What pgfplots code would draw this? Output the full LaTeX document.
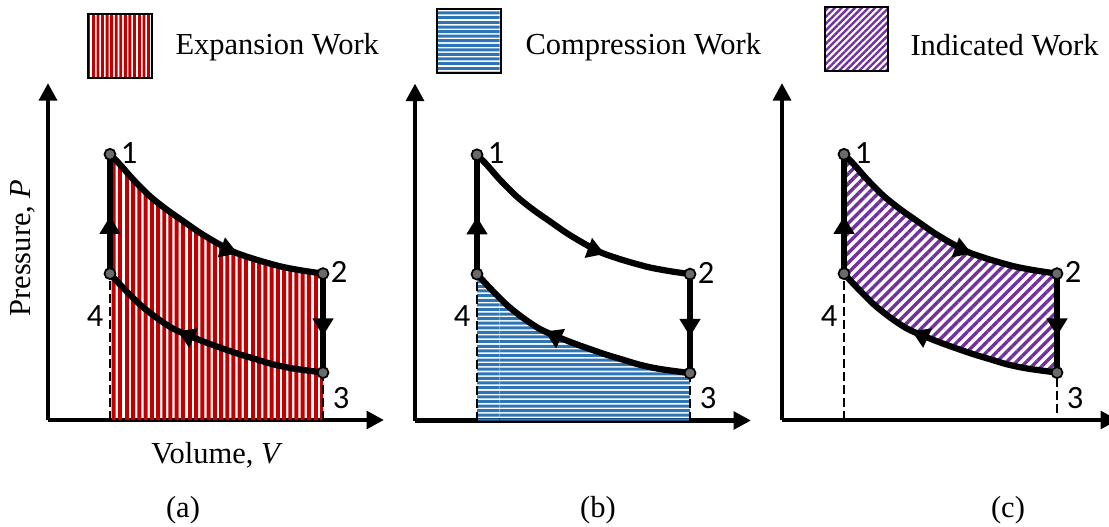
\documentclass[border=0pt]{standalone}
\usepackage{fontspec}
\setmainfont{Liberation Serif}
\newfontfamily\numfont{Carlito}
\usepackage{pgfplots}
\pgfplotsset{compat=1.18}
\usepackage{pgfplotstable}
\usepgfplotslibrary{fillbetween}
\usetikzlibrary{arrows.meta,patterns,patterns.meta,decorations.markings}

\definecolor{expred}{HTML}{C00000}
\definecolor{compblue}{HTML}{2E75B6}
\definecolor{indpurple}{HTML}{7030A0}
\definecolor{dotgray}{HTML}{6A6A6A}

% stripe patterns with wide tiles
\pgfdeclarepatternformonly{vstripes}{\pgfpointorigin}{\pgfpoint{25pt}{90pt}}{\pgfpoint{25pt}{90pt}}{%
  \foreach \i in {0,...,9}{%
    \pgfpathrectangle{\pgfpoint{\i*2.5pt}{0pt}}{\pgfpoint{1.6pt}{90pt}}}%
  \pgfusepath{fill}}
\pgfdeclarepatternformonly{vstripesfine}{\pgfpointorigin}{\pgfpoint{18.5pt}{40pt}}{\pgfpoint{18.5pt}{40pt}}{%
  \foreach \i in {0,...,9}{%
    \pgfpathrectangle{\pgfpoint{\i*1.85pt}{0pt}}{\pgfpoint{1.15pt}{40pt}}}%
  \pgfusepath{fill}}
\pgfdeclarepatternformonly{hstripes}{\pgfpointorigin}{\pgfpoint{100pt}{18.5pt}}{\pgfpoint{100pt}{18.5pt}}{%
  \foreach \i in {0,...,9}{%
    \pgfpathrectangle{\pgfpoint{0pt}{\i*1.85pt}}{\pgfpoint{100pt}{1.2pt}}}%
  \pgfusepath{fill}}

% expansion stroke 1 -> 2
\pgfplotstableread{
V P
62 265.7
72 255.5
85 240.7
101.7 224
118.3 210.7
135 199
151.7 187.4
168.3 177.4
185 168.4
201.7 162.4
218.3 157.4
235 153
255 149.3
275 146.4
}\expansion

% compression stroke 4 <- 3 (listed by increasing volume)
\pgfplotstableread{
V P
62 146.4
75 132.4
91.7 115.7
108.3 102.4
125 91.4
141.7 84
158.3 77.4
175 71.4
191.7 65.7
208.3 60.7
225 55.7
245 51.5
275 47.4
}\compression

\tikzset{
  cyc/.style={black, line width=2.5pt, line cap=round, line join=round},
  midarrow/.style={postaction={decorate}, decoration={markings,
      mark=at position #1 with {\arrow{Triangle[length=7pt,width=8pt]}}}},
  midarrowrev/.style={postaction={decorate}, decoration={markings,
      mark=at position #1 with {\arrowreversed{Triangle[length=7pt,width=8pt]}}}},
  dashedguide/.style={black, line width=0.75pt, dash pattern=on 3.6pt off 1.6pt},
  lbl/.style={font=\numfont\fontsize{13}{15}\selectfont, inner sep=0pt},
  txt/.style={font=\fontsize{12.2}{14.6}\selectfont, inner sep=0pt},
}

\pgfplotsset{
  panel/.style={
    x=0.4pt, y=0.4pt,
    xmin=0, xmax=336, ymin=0, ymax=337,
    axis lines*=left,
    xtick=\empty, ytick=\empty,
    clip=false,
    axis line style={line width=1.8pt, -{Triangle[length=7pt,width=7pt]}},
    anchor=south west,
  },
}

% the closed cycle with its points and numbers
\newcommand{\cycle}{%
  \addplot[cyc, smooth, midarrow=0.65] table[x=V,y=P] {\expansion};
  \addplot[cyc, smooth, midarrowrev=0.37] table[x=V,y=P] {\compression};
  \addplot[cyc, midarrow=0.63] coordinates {(275,146.4) (275,47.4)};
  \addplot[cyc, midarrow=0.48] coordinates {(62,146.4) (62,265.7)};
  \addplot[only marks, mark=*, mark size=2.2pt,
    mark options={fill=dotgray, draw=black, line width=0.7pt}]
    coordinates {(62,265.7) (275,146.4) (275,47.4) (62,146.4)};
  \node[lbl] at (axis cs:81,267) {1};
  \node[lbl] at (axis cs:291,148) {2};
  \node[lbl] at (axis cs:293,22) {3};
  \node[lbl] at (axis cs:47,104) {4};
}

\begin{document}
\begin{tikzpicture}

% (a) expansion work
\begin{axis}[panel, at={(19.2pt,-168pt)}]
  \addplot[draw=none, smooth, name path=topA] table[x=V,y=P] {\expansion};
  \path[name path=baseA] (axis cs:62,0) -- (axis cs:275,0);
  \addplot[pattern=vstripes, pattern color=expred] fill between[of=topA and baseA];
  \addplot[dashedguide] coordinates {(62,0) (62,146.4)};
  \addplot[dashedguide] coordinates {(275,0) (275,47.4)};
  \cycle
  \node[txt] at (axis cs:169,-35) {Volume, \textit{V}};
  \node[txt, rotate=90] at (axis cs:-25,172) {Pressure, \textit{P}};
\end{axis}

% (b) compression work
\begin{axis}[panel, at={(166pt,-168.2pt)}]
  \addplot[draw=none, smooth, name path=botB] table[x=V,y=P] {\compression};
  \path[name path=baseB] (axis cs:62,0) -- (axis cs:275,0);
  \addplot[pattern=hstripes, pattern color=compblue] fill between[of=botB and baseB];
  \addplot[dashedguide] coordinates {(62,0) (62,146.4)};
  \addplot[dashedguide] coordinates {(275,0) (275,47.4)};
  \cycle
\end{axis}

% (c) indicated work
\begin{axis}[panel, at={(312.8pt,-168pt)}]
  \addplot[draw=none, smooth, name path=topC] table[x=V,y=P] {\expansion};
  \addplot[draw=none, smooth, name path=botC] table[x=V,y=P] {\compression};
  \addplot[pattern={Lines[angle=45,distance=2.8pt,line width=1.35pt]},
    pattern color=indpurple] fill between[of=topC and botC];
  \addplot[dashedguide] coordinates {(62,0) (62,146.4)};
  \addplot[dashedguide] coordinates {(275,7) (275,47.4)};
  \cycle
\end{axis}

% legend and panel captions
\begin{scope}[x=0.4pt, y=-0.4pt]
  \draw[line width=0.8pt, pattern=vstripesfine, pattern color=expred] (88,14) rectangle (152,78);
  \node[txt, anchor=west] at (175,47) {Expansion Work};
  \draw[line width=0.8pt, pattern=hstripes, pattern color=compblue] (437,9) rectangle (501,73);
  \node[txt, anchor=west] at (525,47) {Compression Work};
  \draw[line width=0.8pt, pattern={Lines[angle=45,distance=1.9pt,line width=0.95pt]},
    pattern color=indpurple] (825,7) rectangle (888,71);
  \node[txt, anchor=west] at (910,45) {Indicated Work};
  \node[txt] at (183,510) {(a)};
  \node[txt] at (598,510) {(b)};
  \node[txt] at (1008,510) {(c)};
\end{scope}

\pgfresetboundingbox
\path[use as bounding box] (0,0) rectangle (443.6pt,-210.8pt);
\end{tikzpicture}
\end{document}
